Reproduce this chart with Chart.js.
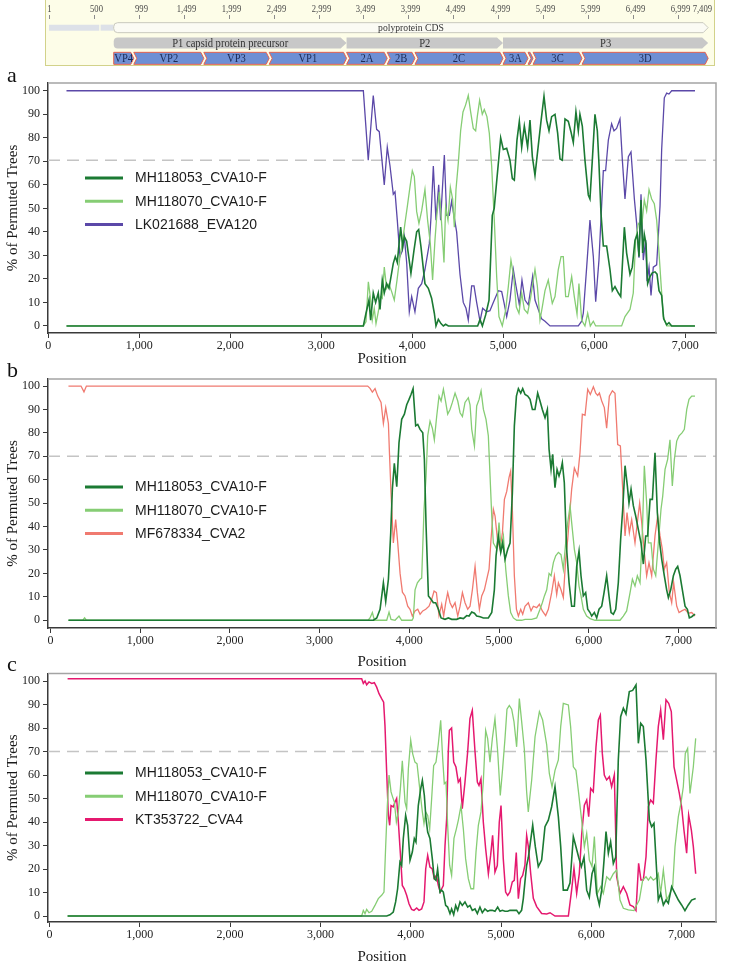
<!DOCTYPE html>
<html>
<head>
<meta charset="utf-8">
<script src="https://cdn.jsdelivr.net/npm/chart.js@4/dist/chart.umd.min.js"></script>
<style>
  html, body { margin: 0; padding: 0; background: #fff; }
  body { width: 744px; height: 968px; position: relative; overflow: hidden; }
  canvas { position: absolute; left: 0; }
  #mapBox { position: absolute; left: 45px; top: -1px; width: 668px; height: 65px; background: #fdfde8; border: 1px solid #d2d28a; }
  .tag { position: absolute; left: 7px; font: 22px "Liberation Serif", serif; color: #111; line-height: 22px; }
</style>
</head>
<body>
<div id="mapBox"></div>
<canvas id="mapChart" width="744" height="68" style="top:0"></canvas>
<div class="tag" style="top:64px">a</div>
<canvas id="chartA" width="744" height="300" style="top:70px"></canvas>
<div class="tag" style="top:359px">b</div>
<canvas id="chartB" width="744" height="306" style="top:366px"></canvas>
<div class="tag" style="top:653px">c</div>
<canvas id="chartC" width="744" height="308" style="top:660px"></canvas>
<script>
// genome map
const mapTicks = [1, 500, 999, 1499, 1999, 2499, 2999, 3499, 3999, 4499, 4999, 5499, 5999, 6499, 6999, 7409];
const utrParts = [[1, 560], [575, 721]];
const cdsParts = [[721, 7333]];
const cdsNames = ['polyprotein CDS'];
const precursorParts = [[721, 3311], [3311, 5051], [5051, 7333]];
const precursorNames = ['P1 capsid protein precursor', 'P2', 'P3'];
const peptideParts = [[721, 944], [944, 1723], [1723, 2450], [2450, 3311], [3311, 3763], [3763, 4072],
  [4072, 5051], [5051, 5329], [5329, 5385], [5385, 5930], [5930, 7333]];
const peptideNames = ['VP4', 'VP2', 'VP3', 'VP1', '2A', '2B', '2C', '3A', '', '3C', '3D'];

// bootscan, [position, % of permuted trees]
const aMH118053 = [[200,0],[3462,0],[3491,5.4],[3524,11],[3542,2.5],[3571,14],[3597,10],[3626,14],[3645,7],[3670,19.5],[3692,14],[3718,18],[3744,16],[3791,26.6],[3813,29.5],[3835,27],[3872,42],[3894,33.7],[3912,38],[3938,36],[3985,22.4],[4018,32],[4048,40],[4070,41],[4095,33.7],[4139,18],[4176,16],[4212,11.8],[4242,5.4],[4260,0],[4286,2.8],[4315,1],[4341,0],[4366,0.7],[4396,0],[4718,0],[4744,2.8],[4770,0],[4806,4.7],[4843,11],[4879,47],[4900,50],[4971,80],[5000,75],[5037,75.5],[5073,70.5],[5099,62.7],[5121,62],[5150,79],[5176,87],[5202,76],[5231,85],[5267,76],[5293,87.5],[5319,72],[5348,64],[5385,77],[5414,87],[5447,97.7],[5476,87.5],[5502,83],[5531,89],[5568,90],[5597,82],[5623,71],[5648,70.5],[5678,88],[5714,87],[5743,82.6],[5769,78],[5798,91],[5824,83],[5842,90],[5868,85],[5897,70.5],[5934,55.7],[5952,54],[5978,70.5],[6007,90],[6033,83],[6051,69],[6073,48],[6099,34],[6135,34],[6172,24],[6198,15],[6227,16.7],[6264,14],[6290,12.5],[6330,42],[6355,31],[6392,22],[6417,25],[6447,36.5],[6472,39],[6491,29.5],[6513,53.5],[6531,31],[6549,39],[6568,35],[6586,18],[6612,21],[6637,22.6],[6667,23],[6689,22],[6711,15],[6740,13],[6762,3],[6795,0.5],[6820,1.4],[6850,0],[7106,0]];
const aMH118070 = [[200,0],[3462,0],[3491,1.8],[3517,18.8],[3538,12.5],[3560,2.5],[3582,7.5],[3601,1],[3626,6],[3652,12.5],[3670,11.8],[3692,25],[3718,16],[3744,17.8],[3773,14.6],[3802,11],[3832,19.5],[3864,29.5],[3890,35],[3919,43.6],[3945,50.7],[3974,59],[4000,66],[4022,63.5],[4048,48.6],[4073,43.6],[4103,49],[4139,58],[4168,45],[4198,35],[4223,19.5],[4249,36.5],[4271,48],[4297,57],[4322,43.6],[4348,27],[4366,50.7],[4392,45],[4418,59],[4443,54],[4462,42],[4480,58],[4505,69],[4531,83],[4557,91],[4586,94],[4615,98],[4641,91],[4670,84],[4696,83],[4714,89],[4740,96],[4769,90],[4791,92],[4820,89],[4846,82],[4872,68],[4901,45],[4927,21],[4952,4],[4989,0],[5026,6.8],[5055,16.7],[5084,28],[5114,21],[5143,8],[5172,5.4],[5202,14],[5231,7],[5267,5.4],[5300,12],[5348,24],[5374,17],[5403,2.5],[5428,8],[5458,15],[5494,19.5],[5538,9.6],[5568,12.5],[5604,24],[5634,29.5],[5659,29.5],[5685,12.5],[5714,12.5],[5751,21],[5780,12.5],[5810,5],[5831,18],[5861,2.5],[5897,0],[5927,5.4],[5956,0],[5989,2],[6015,0],[6300,0],[6337,4],[6392,7],[6428,14],[6454,36.5],[6484,43.6],[6520,42],[6549,53.5],[6575,49],[6601,58],[6630,54],[6659,52],[6685,45],[6711,31],[6733,18],[6758,4],[6795,0],[7106,0]];
const aLK021688 = [[200,100],[3462,100],[3516,70.5],[3571,98],[3608,83.6],[3637,82.6],[3692,60],[3725,76],[3755,68],[3791,56],[3810,57],[3835,45],[3864,29.5],[3890,32],[3912,38],[3938,27],[3967,6],[3993,12.5],[4029,6],[4066,16],[4103,18],[4139,24],[4187,35],[4205,46],[4231,68],[4260,45],[4290,60],[4311,45],[4352,72.7],[4377,47],[4407,47],[4432,53],[4487,40],[4524,22],[4560,10],[4590,7.5],[4615,2.5],[4652,17],[4678,17],[4707,10],[4744,2],[4773,7.5],[4817,6],[4853,6.5],[4890,10],[4945,15],[4982,14.6],[5007,10],[5037,4],[5073,11],[5110,24],[5139,17],[5176,9],[5205,19.5],[5238,11],[5275,9],[5322,21],[5348,11],[5421,3],[5458,2],[5513,0],[5824,0],[5861,2],[5879,5.4],[5916,25],[5952,45],[5989,29.5],[6015,10.3],[6051,28],[6099,66],[6124,66],[6154,79],[6190,86],[6216,83],[6245,84],[6282,88],[6308,70.5],[6337,54],[6374,72],[6403,74],[6440,54],[6465,43.6],[6491,29],[6513,56],[6538,28],[6564,36.5],[6579,19],[6601,25],[6623,13],[6648,25],[6685,26],[6722,51],[6740,75],[6769,97],[6795,99],[6820,98.6],[6850,100],[7106,100]];

const bMH118053 = [[200,0],[3600,0],[3637,1],[3674,4.7],[3711,16],[3737,8],[3767,17.5],[3793,37.4],[3811,56],[3833,67],[3860,57],[3885,75.8],[3915,85.8],[3945,88],[3971,92],[3997,94.3],[4019,96.4],[4042,98.9],[4071,83],[4094,83.6],[4120,81.5],[4150,80],[4168,68.7],[4187,40],[4213,10.4],[4242,9],[4268,7.5],[4294,7.5],[4324,4.7],[4354,1],[4398,0.4],[4435,1],[4473,0.4],[4528,0.4],[4566,1],[4603,0.7],[4640,2],[4666,1.8],[4696,3.5],[4726,3],[4751,1.8],[4789,1.5],[4826,1],[4881,1],[4919,3.3],[4948,13],[4967,27.5],[4993,36],[5019,29],[5041,33],[5067,26],[5097,30.3],[5123,33],[5149,54.5],[5171,83],[5194,95.7],[5216,98.9],[5242,97],[5264,98.9],[5290,96.4],[5320,95.7],[5346,94.3],[5372,90],[5401,90],[5431,97],[5457,93.6],[5483,90],[5513,86.5],[5539,90],[5558,73],[5580,64.4],[5598,70.8],[5624,56.6],[5647,64.4],[5669,61.6],[5691,64.4],[5706,67.3],[5728,58.7],[5754,30.3],[5781,16],[5810,6],[5840,6],[5866,23],[5892,29.6],[5914,19],[5940,10.4],[5966,11.8],[5989,4.7],[6015,3.3],[6033,1.8],[6063,3.3],[6089,1],[6115,4.7],[6145,6],[6171,11.8],[6200,19],[6226,10.4],[6249,3.3],[6275,2.6],[6301,4.7],[6330,16],[6356,34.6],[6379,47.4],[6405,66],[6431,57.3],[6449,50],[6472,56],[6498,48.8],[6524,44.5],[6553,38.8],[6583,33],[6609,24],[6635,36],[6657,36],[6684,51.6],[6710,51.6],[6739,71.5],[6765,46],[6791,33],[6814,26],[6843,19],[6869,13],[6888,9.7],[6914,13],[6944,19],[6970,21.8],[6992,23],[7018,19],[7044,13],[7074,6],[7100,4.7],[7122,1],[7148,1.5],[7185,2.6]];
const bMH118070 = [[200,0],[360,0],[380,1],[400,0],[3540,0],[3562,1],[3588,3.3],[3611,0],[3748,0],[3774,3.5],[3796,0.4],[3841,0],[3885,1.8],[3915,0],[4030,0],[4045,1],[4064,13],[4090,16],[4120,17.5],[4138,18],[4164,47.4],[4187,61.6],[4205,78.7],[4231,85],[4257,82],[4279,77],[4305,87],[4331,95.7],[4354,93.6],[4380,98.6],[4406,93],[4428,88],[4454,90],[4480,93],[4510,97],[4540,93.6],[4566,88.6],[4592,87],[4621,93],[4658,95],[4677,92],[4696,81.5],[4726,74.4],[4751,91.5],[4778,94.3],[4800,97.9],[4826,90],[4855,85.8],[4881,78.7],[4900,61.6],[4919,44.5],[4937,33],[4956,31.7],[4974,30.3],[5000,41.7],[5023,30.3],[5049,36],[5075,21.8],[5104,10.4],[5130,3.3],[5160,1],[5197,0],[5253,0],[5290,0.4],[5364,0.4],[5420,1],[5457,4.7],[5483,7.5],[5506,10.4],[5532,13],[5558,20],[5580,19],[5606,24.6],[5632,27.5],[5662,29],[5691,28],[5717,21.8],[5743,33],[5766,41.7],[5792,48.8],[5810,41.7],[5840,30.3],[5866,24.6],[5892,14.6],[5914,10.4],[5940,4.7],[5977,1.8],[6015,0.7],[6070,0],[6349,0],[6386,1.8],[6423,4],[6461,11.8],[6487,17.5],[6516,14.6],[6542,19],[6572,16],[6598,37.4],[6620,66],[6646,50],[6665,33],[6695,33],[6721,21.8],[6747,19],[6776,33],[6806,47.4],[6825,53],[6851,64.4],[6880,68.7],[6906,77],[6932,57.3],[6955,68.7],[6981,76.5],[7007,78.7],[7040,80],[7066,81.5],[7093,90],[7118,94.3],[7148,95.7],[7185,95.7]];
const bMF678334 = [[200,100],[340,100],[373,97.5],[400,100],[3536,100],[3562,99],[3588,97.4],[3618,98.9],[3648,95.7],[3685,93],[3711,84],[3737,90.8],[3767,84],[3780,70],[3796,54.5],[3822,33],[3848,43],[3871,33],[3897,20],[3923,12],[3952,10.4],[3982,6],[4008,4.7],[4034,1.8],[4064,4],[4094,4.7],[4120,2.6],[4150,4],[4183,4.7],[4220,6],[4250,9],[4276,12.5],[4302,11.8],[4331,2],[4361,6.8],[4383,1.8],[4406,7.5],[4428,11.8],[4454,7.5],[4480,5.4],[4510,7.5],[4540,1.8],[4566,6],[4592,11.8],[4621,7.5],[4651,4.7],[4677,6],[4703,13],[4733,23],[4759,11.8],[4781,4.7],[4807,10.4],[4837,13],[4863,17.5],[4889,21.8],[4911,34.6],[4937,47.4],[4956,44.5],[4982,34.6],[5012,30.3],[5038,37.4],[5060,51.6],[5086,55],[5112,61],[5130,63.7],[5149,47],[5171,19],[5194,4.7],[5216,1.8],[5242,4.7],[5264,2.6],[5290,6],[5327,7.5],[5357,4],[5383,6],[5420,5.4],[5450,6.8],[5483,4],[5520,2],[5550,4.7],[5587,11.8],[5617,19],[5643,11],[5662,16],[5691,13],[5717,9.7],[5743,26],[5766,34.6],[5792,47.4],[5810,56],[5840,65],[5877,61.6],[5903,71.5],[5929,88],[5959,87.5],[5989,98.6],[6018,96.4],[6052,99.7],[6078,97],[6100,96],[6119,97],[6145,93.6],[6174,90.8],[6200,82],[6230,95.7],[6264,98],[6293,96.9],[6323,75],[6353,74.4],[6379,56],[6405,36],[6427,46],[6453,37.4],[6479,43],[6516,33],[6542,41.7],[6568,50],[6591,41.7],[6620,29],[6646,19],[6672,24.6],[6702,19],[6739,36],[6769,44.5],[6795,36],[6821,30.3],[6843,21.8],[6869,24.6],[6899,11.8],[6925,7.5],[6947,16],[6981,6],[7007,3.3],[7037,4],[7074,4.7],[7111,3],[7148,3.3],[7185,1.8]];

const cMH118053 = [[200,0],[3734,0],[3770,0.5],[3807,1.7],[3833,6],[3855,11.6],[3881,23],[3900,21.6],[3918,33],[3944,42.8],[3966,38.6],[3992,23.7],[4018,27.2],[4040,33],[4058,31.5],[4084,47],[4110,54],[4129,57.7],[4151,51.3],[4169,41.4],[4188,35.7],[4213,33],[4239,24.4],[4261,15.9],[4280,15.2],[4298,20],[4324,10.2],[4343,11],[4361,10.2],[4387,4.5],[4409,3.8],[4435,1],[4453,3],[4476,0.6],[4498,4.5],[4520,2.4],[4546,6],[4571,4.5],[4601,6],[4631,3.8],[4656,4.5],[4682,2.4],[4712,3],[4738,1],[4767,3.8],[4793,1.4],[4822,3],[4852,2],[4878,2.4],[4904,2.4],[4933,2],[4963,3.8],[4989,2],[5015,2.4],[5044,2],[5074,2],[5099,2.4],[5136,2.4],[5173,2.4],[5199,1],[5228,2.4],[5247,7.4],[5265,14.5],[5284,21.6],[5303,25],[5351,38.7],[5380,29.5],[5413,21],[5450,23.8],[5487,38],[5524,40.8],[5561,46.5],[5598,55],[5635,42.3],[5661,29.5],[5690,11],[5734,11],[5764,14],[5801,33.8],[5830,29.5],[5860,25],[5890,21],[5919,25],[5949,11],[5978,8],[6008,18],[6034,21],[6059,9.6],[6089,4.7],[6115,11],[6141,23.8],[6163,35.9],[6189,26.7],[6214,31.6],[6244,22.4],[6270,25],[6299,66.4],[6325,84.8],[6355,88.4],[6384,86],[6421,95.5],[6458,96],[6495,98.3],[6521,73.5],[6547,82],[6576,80.6],[6606,66.4],[6643,40.8],[6668,38],[6694,39.4],[6742,6.8],[6768,9.6],[6798,4.7],[6827,6.8],[6853,5.4],[6890,12.5],[6927,9.6],[6964,6.8],[7000,4.7],[7037,2.3],[7074,4.7],[7111,6.8],[7156,7.5]];
const cMH118070 = [[200,0],[3457,0],[3475,2.4],[3494,1],[3512,2.8],[3538,1.4],[3568,2],[3604,4.5],[3641,7.4],[3678,8.8],[3704,10.2],[3723,30],[3741,47],[3760,60],[3782,52.8],[3800,50.6],[3819,48.5],[3841,40],[3863,44.3],[3885,54],[3907,66],[3937,48.5],[3955,45.7],[3974,62.7],[4000,74.8],[4022,69],[4047,65.5],[4070,64.8],[4092,57],[4110,50.6],[4129,44.3],[4147,39.3],[4166,44.3],[4188,42.8],[4210,37],[4232,50],[4254,64],[4280,65.5],[4306,73.3],[4332,83.3],[4354,67],[4372,56.3],[4391,57],[4409,38.6],[4431,21.6],[4453,17.3],[4479,33],[4505,37],[4527,40.7],[4557,47],[4583,37],[4608,24.4],[4638,15.9],[4667,11.6],[4697,11.6],[4723,27.2],[4749,38.6],[4778,44.3],[4804,57],[4830,79],[4852,75.5],[4878,65.5],[4904,75.5],[4933,84],[4963,70],[4992,51.3],[5018,62.7],[5044,75.5],[5066,88],[5092,89.6],[5118,88],[5144,82.6],[5173,72],[5203,92.5],[5229,82.6],[5258,71.2],[5284,52.8],[5302,44.3],[5340,58],[5377,76.3],[5425,87],[5461,83.4],[5506,72.8],[5535,60.7],[5565,55],[5598,62],[5635,66.4],[5661,80.6],[5690,90.5],[5746,89.8],[5771,80.6],[5801,63.5],[5830,62],[5860,52.2],[5893,40.8],[5923,29.5],[5949,35.2],[5978,23.8],[6008,21],[6034,33.8],[6067,9.6],[6104,12.5],[6133,9.6],[6170,16.7],[6207,15.3],[6244,18],[6281,19.6],[6318,6.8],[6355,3.3],[6410,2.6],[6473,2.3],[6502,4.7],[6532,6.8],[6569,15.3],[6606,16.7],[6632,15.3],[6657,16.7],[6687,15.3],[6716,16],[6742,18],[6768,9.6],[6798,19.6],[6835,6.8],[6871,9.6],[6901,12.5],[6927,29.5],[6964,42.3],[6993,48],[7019,55],[7041,69.2],[7067,71.3],[7093,52.2],[7130,63.5],[7156,75.6]];
const cKT353722 = [[200,101],[3457,101],[3475,99],[3494,100],[3512,98.4],[3538,99.6],[3568,99],[3597,99.3],[3623,97.4],[3649,94.6],[3678,92.5],[3700,91],[3715,81],[3734,61],[3752,43],[3767,38.6],[3782,47],[3807,46.4],[3826,48.5],[3844,50],[3863,40],[3889,24.4],[3907,13],[3929,11.6],[3955,8.8],[3981,5.2],[4010,2.8],[4036,2.4],[4066,3.4],[4092,2.4],[4121,3],[4147,6],[4166,20],[4188,25.8],[4213,20.8],[4239,20],[4261,16],[4284,17.3],[4306,13],[4328,10.2],[4343,11.6],[4361,13],[4380,30],[4398,41.4],[4416,70],[4428,79],[4453,80],[4476,65.5],[4501,63.4],[4527,57],[4549,58.4],[4571,45.7],[4601,57],[4631,70],[4656,84],[4682,87.5],[4712,70],[4738,57],[4756,55.6],[4778,58.4],[4804,40],[4830,28.6],[4860,18],[4885,25.8],[4907,34.3],[4933,18.7],[4959,21.5],[4981,40],[5000,47],[5025,24.4],[5051,10.2],[5074,8.8],[5099,10.2],[5125,14.5],[5147,15.2],[5169,27],[5192,7.4],[5217,15.9],[5240,17.3],[5265,21.6],[5284,34.3],[5303,29.5],[5329,18],[5358,7.5],[5395,4],[5450,1.1],[5506,0.9],[5543,1.4],[5598,0],[5746,0],[5782,11],[5808,20.3],[5838,9.6],[5867,18],[5893,34.5],[5923,47.2],[5949,49.4],[5971,42.3],[5993,54.3],[6022,52.9],[6052,72],[6078,83.4],[6100,85.5],[6122,69.2],[6144,60],[6170,57.9],[6200,59.3],[6225,55],[6255,60],[6281,16.7],[6318,9.6],[6355,12.5],[6392,9.6],[6428,4.7],[6465,4],[6495,2.3],[6524,22.4],[6550,15.3],[6576,15.3],[6606,25.2],[6632,46.5],[6657,49.4],[6687,48],[6716,66.4],[6742,80.6],[6768,87.7],[6798,75],[6827,92],[6857,90.5],[6886,87],[6916,63.5],[6945,57.9],[6975,52.2],[7000,46.5],[7026,36.6],[7056,26.7],[7078,43],[7108,36.6],[7130,29.5],[7156,18]];

const xTickValues = [0, 1000, 2000, 3000, 4000, 5000, 6000, 7000];
const yTickValues = [0, 10, 20, 30, 40, 50, 60, 70, 80, 90, 100];

const DARK_GREEN = '#1b7a33';
const LIGHT_GREEN = '#86cd74';
const SERIF = '"Liberation Serif", "DejaVu Serif", serif';

// narrow serif text, like the map software's labels
function narrowText(ctx, text, x, y, align, squeeze) {
  ctx.save();
  ctx.translate(x, y);
  ctx.scale(squeeze, 1);
  ctx.textAlign = align;
  ctx.fillText(text, 0, 0);
  ctx.restore();
}

// draws the feature shapes of the genome map on the bars laid out by chart.js
const mapShapes = {
  id: 'mapShapes',
  afterDatasetsDraw(chart) {
    const ctx = chart.ctx;
    const xs = chart.scales.x;
    ctx.save();
    ctx.strokeStyle = '#8c8c8c';
    ctx.lineWidth = 1;
    ctx.fillStyle = '#4a4a4a';
    ctx.font = '10.5px ' + SERIF;
    ctx.textBaseline = 'middle';
    mapTicks.forEach((v, i) => {
      const px = Math.round(xs.getPixelForValue(v)) + 0.5;
      const last = i === mapTicks.length - 1;
      if (!last) {
        ctx.beginPath(); ctx.moveTo(px, 15); ctx.lineTo(px, 19); ctx.stroke();
      }
      const text = v.toLocaleString('en-US');
      if (last) narrowText(ctx, text, 712, 9, 'right', 0.82);
      else narrowText(ctx, text, i === 0 ? px : px + 2, 9, 'center', 0.82);
    });

    chart.data.datasets.forEach((ds, di) => {
      const meta = chart.getDatasetMeta(di);
      meta.data.forEach((el, i) => {
        const x0 = Math.min(el.base, el.x), x1 = Math.max(el.base, el.x);
        const h = ds.barThickness, yc = el.y, y0 = yc - h / 2, y1 = yc + h / 2;
        ctx.beginPath();
        if (ds.shape === 'plain') {
          ctx.rect(x0, y0, x1 - x0, h);
        } else if (ds.shape === 'pep') {
          const tip = 3;
          ctx.moveTo(x0, y0);
          ctx.lineTo(x1 - tip, y0);
          ctx.lineTo(x1, yc);
          ctx.lineTo(x1 - tip, y1);
          ctx.lineTo(x0, y1);
          if (i > 0) ctx.lineTo(x0 + tip, yc);
          ctx.closePath();
        } else {
          const tip = ds.shape === 'cds' ? 5 : 6, r = i === 0 ? 4 : 0;
          ctx.moveTo(x0 + r, y0);
          ctx.lineTo(x1 - tip, y0);
          ctx.lineTo(x1, yc);
          ctx.lineTo(x1 - tip, y1);
          ctx.lineTo(x0 + r, y1);
          if (r) ctx.arcTo(x0, y1, x0, yc, r), ctx.arcTo(x0, y0, x0 + r, y0, r);
          ctx.closePath();
        }
        ctx.fillStyle = ds.fill;
        ctx.fill();
        if (ds.stroke) {
          ctx.strokeStyle = ds.stroke;
          ctx.lineWidth = 1;
          ctx.stroke();
        }
        const name = ds.names ? ds.names[i] : '';
        if (name) {
          ctx.fillStyle = ds.textColor;
          ctx.font = ds.fontSize + 'px ' + SERIF;
          narrowText(ctx, name, (x0 + x1) / 2, yc + 0.5, 'center', 0.92);
        }
      });
    });
    ctx.restore();
  }
};

new Chart(document.getElementById('mapChart'), {
  type: 'bar',
  data: {
    labels: ['cds', 'precursor', 'peptide'],
    datasets: [
      { data: utrParts.map(p => ({ x: p, y: 'cds' })), shape: 'plain', fill: '#dde1e8', barThickness: 6 },
      { data: cdsParts.map(p => ({ x: p, y: 'cds' })), shape: 'cds', names: cdsNames, fill: '#fbfbf4', stroke: '#c9c9be', barThickness: 10, textColor: '#333', fontSize: 10.5 },
      { data: precursorParts.map(p => ({ x: p, y: 'precursor' })), shape: 'pre', names: precursorNames, fill: '#c8c8c8', barThickness: 11, textColor: '#333', fontSize: 11.5 },
      { data: peptideParts.map(p => ({ x: p, y: 'peptide' })), shape: 'pep', names: peptideNames, fill: '#6e8fd4', stroke: '#e5624f', barThickness: 12, textColor: '#1b2a55', fontSize: 11.5 }
    ].map(d => Object.assign(d, { grouped: false, backgroundColor: 'rgba(0,0,0,0)', borderWidth: 0 }))
  },
  options: {
    indexAxis: 'y',
    responsive: false,
    animation: false,
    events: [],
    layout: { padding: { left: 49, right: 29, top: 20, bottom: 2 } },
    plugins: { legend: { display: false }, tooltip: { enabled: false } },
    scales: {
      x: { type: 'linear', min: 1, max: 7409, display: false },
      y: { type: 'category', display: false }
    }
  },
  plugins: [mapShapes]
});

// gray top and right frame lines
const framePlugin = {
  id: 'frame',
  afterDraw(chart) {
    const { ctx, chartArea: a } = chart;
    ctx.save();
    ctx.strokeStyle = '#a4a4a4';
    ctx.lineWidth = 1.5;
    ctx.beginPath();
    ctx.moveTo(a.left, a.top);
    ctx.lineTo(a.right, a.top);
    ctx.lineTo(a.right, a.bottom);
    ctx.stroke();
    ctx.restore();
  }
};

const insideLegend = {
  id: 'insideLegend',
  afterDraw(chart, args, opts) {
    const { ctx, chartArea } = chart;
    const items = chart.data.datasets.filter(d => !d.isGuide);
    ctx.save();
    ctx.font = '14px "Liberation Sans", Arial, sans-serif';
    ctx.textBaseline = 'middle';
    ctx.textAlign = 'left';
    items.forEach((d, i) => {
      const y = chartArea.top + opts.top + i * opts.gap;
      const x = chartArea.left + opts.left;
      ctx.strokeStyle = d.borderColor;
      ctx.lineWidth = 3;
      ctx.beginPath(); ctx.moveTo(x, y); ctx.lineTo(x + 38, y); ctx.stroke();
      ctx.fillStyle = '#1c1c1c';
      ctx.fillText(d.label, x + 50, y + 0.5);
    });
    ctx.restore();
  }
};

function makePanel(id, series, cfg) {
  const datasets = series.map(s => ({
    label: s.label,
    data: s.points.map(([x, y]) => ({ x, y })),
    borderColor: s.color,
    borderWidth: s.width,
    pointRadius: 0,
    tension: 0,
    fill: false
  }));
  datasets.push({
    isGuide: true,
    label: 'cut',
    data: [{ x: cfg.xMin, y: cfg.cut }, { x: cfg.xMax, y: cfg.cut }],
    borderColor: '#c4c4c4',
    borderDash: [12, 7],
    borderWidth: 1.5,
    pointRadius: 0,
    order: 5
  });
  return new Chart(document.getElementById(id), {
    type: 'line',
    data: { datasets },
    options: {
      responsive: false,
      animation: false,
      events: [],
      layout: { padding: { left: 0, right: 28, top: cfg.padTop, bottom: 0 } },
      plugins: {
        legend: { display: false },
        tooltip: { enabled: false },
        insideLegend: { left: 37, top: cfg.legendTop, gap: 23.3 }
      },
      scales: {
        x: {
          type: 'linear',
          min: cfg.xMin,
          max: cfg.xMax,
          afterBuildTicks: s => { s.ticks = xTickValues.map(value => ({ value })); },
          afterFit: s => { s.height = cfg.xHeight; },
          ticks: {
            autoSkip: false,
            maxRotation: 0,
            padding: 1,
            color: '#222',
            font: { family: SERIF, size: 12 },
            callback: v => v.toLocaleString('en-US')
          },
          grid: { drawOnChartArea: false, drawTicks: true, tickLength: 5, color: '#3a3a3a' },
          border: { color: '#3a3a3a', width: 1.5 },
          title: {
            display: true,
            text: 'Position',
            color: '#1a1a1a',
            font: { family: SERIF, size: 15 },
            padding: { top: 0, bottom: cfg.titlePad }
          }
        },
        y: {
          min: cfg.yMin,
          max: cfg.yMax,
          afterBuildTicks: s => { s.ticks = yTickValues.map(value => ({ value })); },
          afterFit: s => { s.width = 48; },
          ticks: {
            padding: 3,
            color: '#222',
            font: { family: SERIF, size: 12 }
          },
          grid: { drawOnChartArea: false, drawTicks: true, tickLength: 5, color: '#3a3a3a' },
          border: { color: '#3a3a3a', width: 1.5 },
          title: {
            display: true,
            text: '% of Permuted Trees',
            color: '#1a1a1a',
            font: { family: SERIF, size: 15 },
            padding: { top: 4, bottom: 0 }
          }
        }
      }
    },
    plugins: [framePlugin, insideLegend]
  });
}

makePanel('chartA', [
  { label: 'MH118053_CVA10-F', points: aMH118053, color: DARK_GREEN, width: 1.6 },
  { label: 'MH118070_CVA10-F', points: aMH118070, color: LIGHT_GREEN, width: 1.3 },
  { label: 'LK021688_EVA120', points: aLK021688, color: '#5b48a8', width: 1.3 }
], { xMin: -3, xMax: 7337, yMin: -3, yMax: 103.3, cut: 70.5, padTop: 13, xHeight: 37, titlePad: 2, legendTop: 95 });

makePanel('chartB', [
  { label: 'MH118053_CVA10-F', points: bMH118053, color: DARK_GREEN, width: 1.6 },
  { label: 'MH118070_CVA10-F', points: bMH118070, color: LIGHT_GREEN, width: 1.3 },
  { label: 'MF678334_CVA2', points: bMF678334, color: '#f07a70', width: 1.3 }
], { xMin: -28, xMax: 7419, yMin: -3.3, yMax: 103, cut: 70, padTop: 13, xHeight: 44, titlePad: 1, legendTop: 108 });

makePanel('chartC', [
  { label: 'MH118053_CVA10-F', points: cMH118053, color: DARK_GREEN, width: 1.6 },
  { label: 'MH118070_CVA10-F', points: cMH118070, color: LIGHT_GREEN, width: 1.3 },
  { label: 'KT353722_CVA4', points: cKT353722, color: '#e5196f', width: 1.5 }
], { xMin: -17, xMax: 7381, yMin: -2.55, yMax: 103.2, cut: 70, padTop: 13.5, xHeight: 46, titlePad: 2, legendTop: 99.5 });
</script>
</body>
</html>
